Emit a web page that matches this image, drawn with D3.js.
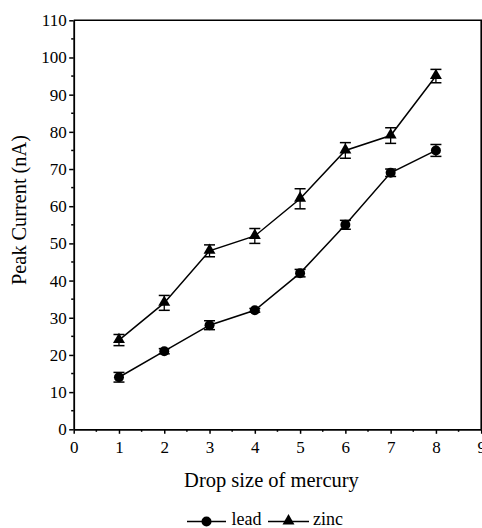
<!DOCTYPE html>
<html>
<head>
<meta charset="utf-8">
<script src="https://cdn.jsdelivr.net/npm/d3@7"></script>
<style>
  html, body { margin: 0; padding: 0; background: #fff; }
  svg { display: block; }
  svg text { font-family: "Liberation Serif", "Times New Roman", Times, "DejaVu Serif", serif !important; fill: #000; }
</style>
</head>
<body>
<script>
const dropSizes = [1, 2, 3, 4, 5, 6, 7, 8];
const leadValues = [14, 21, 28, 32, 42, 55, 69, 75];
const leadErrors = [1.3, 0.7, 1.2, 0.5, 1.0, 1.2, 1.0, 1.6];
const zincValues = [24, 34, 48, 52, 62, 75, 79, 95];
const zincErrors = [1.5, 2.0, 1.6, 2.0, 2.7, 2.1, 2.1, 1.8];
const xTicks = [0, 1, 2, 3, 4, 5, 6, 7, 8, 9];
const yTicks = [0, 10, 20, 30, 40, 50, 60, 70, 80, 90, 100, 110];
const seriesNames = ["lead", "zinc"];

const FONT = '"Liberation Serif", "Times New Roman", Times, serif';
const W = 482, H = 528;
const svg = d3.select("body").append("svg").attr("width", W).attr("height", H)
  .attr("font-family", FONT);

const x = d3.scaleLinear().domain([0, 9]).range([73.7, 481.2]);
const y = d3.scaleLinear().domain([0, 110]).range([429.3, 20.3]);

// frame (top & right lines)
svg.append("path")
  .attr("d", `M${x(0)},${y(110)}H${x(9)}V${y(0)}`)
  .attr("fill", "none").attr("stroke", "#000").attr("stroke-width", 1.6);

// minor ticks
const xMinor = d3.range(0.5, 9, 1);
svg.append("g").selectAll("line").data(xMinor).join("line")
  .attr("x1", d => x(d)).attr("x2", d => x(d))
  .attr("y1", y(0)).attr("y2", y(0) + 2.5)
  .attr("stroke", "#000").attr("stroke-width", 1.5);
const yMinor = d3.range(5, 110, 10);
svg.append("g").selectAll("line").data(yMinor).join("line")
  .attr("y1", d => y(d)).attr("y2", d => y(d))
  .attr("x1", x(0)).attr("x2", x(0) - 2.5)
  .attr("stroke", "#000").attr("stroke-width", 1.5);

// axes
const xAxis = svg.append("g").attr("transform", `translate(0,${y(0)})`)
  .call(d3.axisBottom(x).tickValues(xTicks).tickFormat(d3.format("d")).tickSizeInner(4.5).tickSizeOuter(0).tickPadding(7));
const yAxis = svg.append("g").attr("transform", `translate(${x(0)},0)`)
  .call(d3.axisLeft(y).tickValues(yTicks).tickFormat(d3.format("d")).tickSizeInner(4.5).tickSizeOuter(0).tickPadding(2.5));
[xAxis, yAxis].forEach(a => {
  a.attr("font-family", FONT).attr("font-size", 17);
  a.select(".domain").attr("stroke", "#000").attr("stroke-width", 1.8);
  a.selectAll(".tick line").attr("stroke", "#000").attr("stroke-width", 1.5);
  a.selectAll(".tick text").style("font-size", "17px").attr("fill", "#000");
});

// axis titles
svg.append("text").attr("x", 271.5).attr("y", 487).attr("text-anchor", "middle")
  .style("font-size", "20.5px").text("Drop size of mercury");
svg.append("text").attr("transform", "translate(26,210) rotate(-90)").attr("text-anchor", "middle")
  .style("font-size", "20.3px").text("Peak Current (nA)");

const line = d3.line().x(d => x(d[0])).y(d => y(d[1]));
const tri = d3.symbol().type(d3.symbolTriangle).size(62);
const series = [
  { name: seriesNames[0], vals: leadValues, errs: leadErrors, shape: "circle" },
  { name: seriesNames[1], vals: zincValues, errs: zincErrors, shape: "triangle" }
];

series.forEach(s => {
  const pts = dropSizes.map((d, i) => [d, s.vals[i], s.errs[i]]);
  const g = svg.append("g");
  g.append("path").datum(pts).attr("d", line)
    .attr("fill", "none").attr("stroke", "#000").attr("stroke-width", 1.5);
  const eb = g.selectAll(".eb").data(pts).join("g");
  eb.append("line").attr("x1", d => x(d[0])).attr("x2", d => x(d[0]))
    .attr("y1", d => y(d[1] - d[2])).attr("y2", d => y(d[1] + d[2]))
    .attr("stroke", "#000").attr("stroke-width", 1.3);
  [-1, 1].forEach(sg => {
    eb.append("line").attr("x1", d => x(d[0]) - 5.5).attr("x2", d => x(d[0]) + 5.5)
      .attr("y1", d => y(d[1] + sg * d[2])).attr("y2", d => y(d[1] + sg * d[2]))
      .attr("stroke", "#000").attr("stroke-width", 1.5);
  });
  if (s.shape === "circle") {
    g.selectAll(".m").data(pts).join("circle")
      .attr("cx", d => x(d[0])).attr("cy", d => y(d[1])).attr("r", 5).attr("fill", "#000");
  } else {
    g.selectAll(".m").data(pts).join("path")
      .attr("transform", d => `translate(${x(d[0])},${y(d[1]) - 0.5})`)
      .attr("d", tri).attr("fill", "#000");
  }
});

// legend
const legY = 521.5;
const leg = svg.append("g");
const legItems = [
  { name: seriesNames[0], x0: 187, x1: 226, shape: "circle", tx: 231.5 },
  { name: seriesNames[1], x0: 268, x1: 309, shape: "triangle", tx: 313 }
];
legItems.forEach(it => {
  leg.append("line").attr("x1", it.x0).attr("x2", it.x1).attr("y1", legY).attr("y2", legY)
    .attr("stroke", "#000").attr("stroke-width", 1.5);
  const cx = (it.x0 + it.x1) / 2;
  if (it.shape === "circle") {
    leg.append("circle").attr("cx", cx).attr("cy", legY).attr("r", 5).attr("fill", "#000");
  } else {
    leg.append("path").attr("transform", `translate(${cx},${legY - 0.5})`).attr("d", tri).attr("fill", "#000");
  }
  leg.append("text").attr("x", it.tx).attr("y", 525).style("font-size", "18px").text(it.name);
});
</script>
</body>
</html>
